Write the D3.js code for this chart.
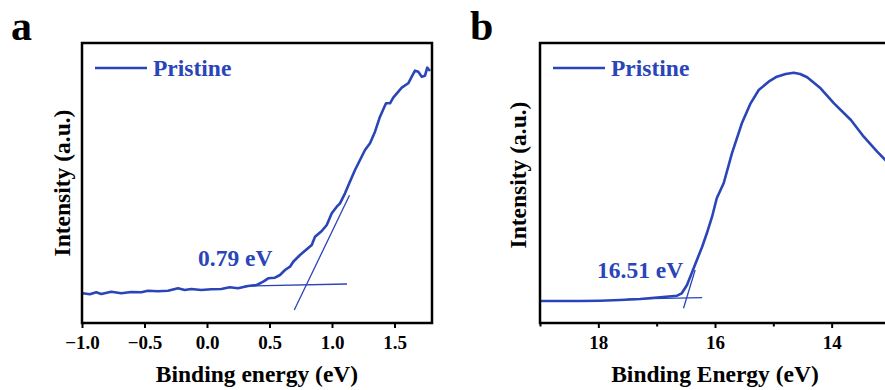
<!DOCTYPE html>
<html><head><meta charset="utf-8">
<script src="https://cdn.jsdelivr.net/npm/d3@7"></script>
<style>
html,body{margin:0;padding:0;background:#fff;}
svg{display:block;font-family:"Times New Roman","Liberation Serif",serif;font-weight:bold;}
</style></head>
<body>
<svg id="chart" width="885" height="390"></svg>
<script>
// ---------------- DATA ----------------
const seriesName = "Pristine";

// Panel a: valence band region
const energyA = [-0.992,-0.938,-0.886,-0.846,-0.766,-0.686,-0.606,-0.526,-0.472,-0.392,-0.312,-0.232,-0.178,-0.126,-0.046,0.034,0.114,0.182,0.248,0.328,0.398,0.450,0.490,0.544,0.584,0.624,0.664,0.690,0.744,0.798,0.838,0.864,0.918,0.958,0.998,1.038,1.064,1.104,1.138,1.184,1.224,1.264,1.304,1.344,1.384,1.432,1.464,1.490,1.558,1.610,1.638,1.664,1.690,1.718,1.744,1.762,1.784];
const intensityA = [10.61,10.25,10.96,10.36,11.18,10.61,11.07,10.96,11.54,11.32,11.54,12.39,11.79,12.14,11.79,12.04,12.14,12.75,12.39,13.21,13.57,14.75,15.96,16.18,17.14,18.93,20.11,21.89,24.29,26.32,27.86,30.82,32.86,35.0,39.18,41.54,42.75,46.32,49.89,54.64,58.21,61.79,64.18,68.32,73.68,78.46,78.46,80.46,84.04,85.61,87.96,90.11,89.75,87.96,88.32,91.18,90.0];
const baseFitEnergyA = [0.30, 1.12];
const baseFitIntensityA = [13.17, 13.93];
const edgeFitEnergyA = [0.698, 1.14];
const edgeFitIntensityA = [4.64, 45.6];
const labelA = "0.79 eV";
const xTicksA = [-1.0,-0.5,0.0,0.5,1.0,1.5];
const xDomainA = [-1.0, 1.8];

// Panel b: secondary electron cutoff
const energyB = [18.99,18.66,18.31,17.97,17.63,17.28,16.94,16.65,16.57,16.48,16.40,16.31,16.22,16.14,16.05,15.97,15.85,15.71,15.54,15.39,15.25,15.08,14.94,14.79,14.65,14.54,14.42,14.19,13.96,13.67,13.45,13.22,13.08,12.91,12.65];
const intensityB = [7.86,7.86,7.86,7.96,8.21,8.57,9.18,9.75,10.61,13.57,17.75,22.5,27.25,32.04,37.96,44.54,50.0,60.61,71.32,78.46,83.21,86.18,87.96,88.93,89.39,88.93,87.75,83.82,78.46,72.5,66.54,61.18,58.21,54.6,50.0];
const baseFitEnergyB = [17.5, 16.22];
const baseFitIntensityB = [8.55, 9.04];
const edgeFitEnergyB = [16.54, 16.34];
const edgeFitIntensityB = [5.25, 18.93];
const labelB = "16.51 eV";
const xTicksB = [18,16,14];
const xMinorTicksB = [19,17,15,13];
const xDomainB = [19, 13];

const yDomain = [0, 100];

// ---------------- DRAW ----------------
const color = "#2a45b8";
const svg = d3.select("#chart");

function panel(opt){
  const g = svg.append("g");
  const x = d3.scaleLinear().domain(opt.xDomain).range([opt.left, opt.left + 350]);
  const y = d3.scaleLinear().domain(yDomain).range([323, 43]);
  const clipId = "clip" + opt.id;
  svg.append("clipPath").attr("id", clipId).append("rect")
    .attr("x", opt.left).attr("y", 43).attr("width", 350).attr("height", 280);

  // minor ticks
  if (opt.minor) {
    g.append("g").attr("transform","translate(0,323)")
      .call(d3.axisBottom(x).tickValues(opt.minor).tickSize(3.5).tickFormat(""))
      .call(s => s.select(".domain").remove())
      .call(s => s.selectAll("line").attr("stroke","#000").attr("stroke-width",2));
  }
  // major ticks
  const ax = g.append("g").attr("transform","translate(0,323)")
    .call(d3.axisBottom(x).tickValues(opt.ticks).tickSize(5).tickPadding(8).tickFormat(opt.fmt));
  ax.select(".domain").remove();
  ax.selectAll("line").attr("stroke","#000").attr("stroke-width",2);
  ax.selectAll("text").attr("fill","#000").style("font-size","19px")
    .style("font-family",'"Times New Roman","Liberation Serif",serif').style("font-weight","bold");

  const cg = g.append("g").attr("clip-path", `url(#${clipId})`);
  const line = d3.line().x(d => x(d[0])).y(d => y(d[1]));
  cg.append("path").datum(d3.zip(opt.energy, opt.intensity))
    .attr("d", line).attr("fill","none").attr("stroke",color)
    .attr("stroke-width",2.6).attr("stroke-linejoin","round");
  cg.append("path").datum(d3.zip(opt.baseE, opt.baseI))
    .attr("d", line).attr("fill","none").attr("stroke",color).attr("stroke-width",1.3);
  cg.append("path").datum(d3.zip(opt.edgeE, opt.edgeI))
    .attr("d", line).attr("fill","none").attr("stroke",color).attr("stroke-width",1.3);

  // frame
  g.append("rect").attr("x",opt.left).attr("y",43).attr("width",350).attr("height",280)
    .attr("fill","none").attr("stroke","#000").attr("stroke-width",2.5);

  // legend
  g.append("line").attr("x1",opt.left+13).attr("x2",opt.left+65).attr("y1",68).attr("y2",68)
    .attr("stroke",color).attr("stroke-width",2.6);
  g.append("text").attr("x",opt.left+71).attr("y",76).attr("fill",color)
    .style("font-size","23.5px").text(seriesName);

  // annotation
  g.append("text").attr("x",opt.annX).attr("y",opt.annY).attr("fill",color)
    .style("font-size","23.5px").text(opt.label);

  // axis titles
  g.append("text").attr("x",opt.left+175).attr("y",382).attr("text-anchor","middle")
    .attr("fill","#000").style("font-size","23.5px").text(opt.xTitle);
  g.append("text").attr("transform",`translate(${opt.yTitleX},${opt.yTitleY}) rotate(-90)`)
    .attr("text-anchor","middle").attr("fill","#000").style("font-size","23.5px")
    .text("Intensity (a.u.)");

  // panel letter
  g.append("text").attr("x",opt.letterX).attr("y",40).attr("fill","#000")
    .style("font-size","42px").text(opt.letter);
}

panel({id:"a", left:82, xDomain:xDomainA, ticks:xTicksA, fmt:d3.format(".1f"),
  energy:energyA, intensity:intensityA, baseE:baseFitEnergyA, baseI:baseFitIntensityA,
  edgeE:edgeFitEnergyA, edgeI:edgeFitIntensityA, label:labelA, annX:198, annY:266,
  xTitle:"Binding energy (eV)", yTitleX:70, yTitleY:183, letter:"a", letterX:11});

panel({id:"b", left:540, xDomain:xDomainB, ticks:xTicksB, minor:xMinorTicksB, fmt:d3.format("d"),
  energy:energyB, intensity:intensityB, baseE:baseFitEnergyB, baseI:baseFitIntensityB,
  edgeE:edgeFitEnergyB, edgeI:edgeFitIntensityB, label:labelB, annX:597, annY:278,
  xTitle:"Binding Energy (eV)", yTitleX:526, yTitleY:175, letter:"b", letterX:470});
</script>
</body></html>
